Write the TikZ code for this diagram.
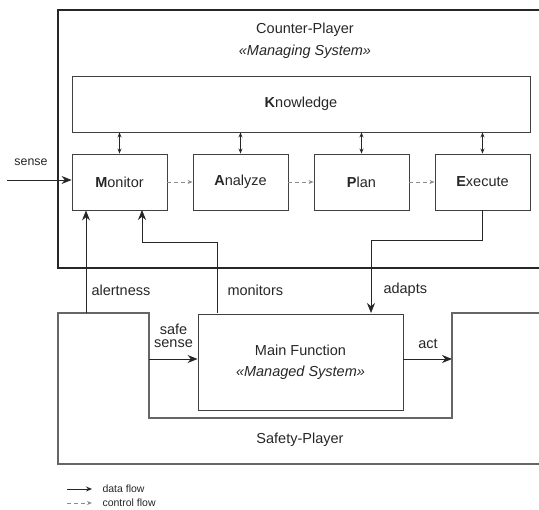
\documentclass[tikz,border=0pt]{standalone}
\usepackage{fontspec}
\setmainfont{Liberation Sans}
\usetikzlibrary{arrows.meta}
\begin{document}
\begin{tikzpicture}[x=1pt,y=-1pt,every node/.style={font=\fontsize{14.5}{17}\selectfont,text=black!85},
  box/.style={draw=black!75,line width=0.9pt,rectangle,minimum width=95pt,minimum height=56pt,inner sep=0pt},
  flow/.style={draw=black!85,line width=0.9pt,-{Stealth[length=10pt,width=8pt]}},
  link/.style={draw=black!85,line width=0.9pt,{Stealth[length=5pt,width=4pt]}-{Stealth[length=5pt,width=4pt]}},
  ctrl/.style={draw=black!45,line width=0.9pt,dash pattern=on 4pt off 3pt,-{Stealth[length=5pt,width=4pt]}}]
\useasboundingbox (0,0) rectangle (539,510);
\clip (0,0) rectangle (539,510);
% Counter-Player
\draw[black!85,line width=2pt] (58,10) rectangle (580,268);
\node (cp) at (305,30) {Counter-Player};
\node (ms) at (305,52) {\itshape «Managing System»};
\node[box,minimum width=458pt] (know) at (301,104) {\textbf{K}nowledge};
\node[box] (mon) at (119.5,182) {\textbf{M}onitor};
\node[box] (ana) at (240.5,182) {\textbf{A}nalyze};
\node[box] (plan) at (361.5,182) {\textbf{P}lan};
\node[box] (exe) at (482.5,182) {\textbf{E}xecute};
\draw[link] (mon) -- (mon |- know.south);
\draw[link] (ana) -- (ana |- know.south);
\draw[link] (plan) -- (plan |- know.south);
\draw[link] (exe) -- (exe |- know.south);
\draw[ctrl] (mon) -- (ana);
\draw[ctrl] (ana) -- (plan);
\draw[ctrl] (plan) -- (exe);
% Safety-Player
\draw[black!60,line width=1.2pt] (580,313) -- (452,313) -- (452,418) -- (149,418) -- (149,313) -- (58,313) -- (58,464) -- (580,464);
\node (sp) at (300,440) {Safety-Player};
\node[box,minimum width=205pt,minimum height=96pt,align=center] (main) at (300.5,362) {Main Function\\[4pt]\itshape «Managed System»};
% connectors
\coordinate (in) at (7,180);
\draw[flow] (in) -- (mon.west |- in);
\node[font=\fontsize{12.4}{14}\selectfont] (sense) at (31,162) {sense};
\coordinate (alert) at (86,313);
\draw[flow] (alert) -- (alert |- mon.south);
\node[anchor=west] (al) at (88,290) {alertness};
\draw[flow] (217,313) -- (217,242) -- (142,242) -- (142,210);
\node[anchor=west] (mo) at (224,290) {monitors};
\draw[flow] (exe.south) -- (482.5,240) -- (371,240) -- (371,313);
\node[anchor=west] (ad) at (380,290) {adapts};
\coordinate (ss) at (149,359);
\draw[flow] (ss) -- (main.west |- ss);
\node[align=center,font=\fontsize{14.5}{13}\selectfont] (sslab) at (173.5,336) {safe\\sense};
\coordinate (ac) at (452,359);
\draw[flow] (main.east |- ac) -- (ac);
\node (aclab) at (428,344) {act};
% legend
\coordinate (l1) at (67,489);
\coordinate (l2) at (67,503);
\draw[draw=black!85,line width=0.9pt,-{Stealth[length=6pt,width=5pt]}] (l1) -- ++(25,0);
\draw[ctrl] (l2) -- ++(25,0);
\node[anchor=west,font=\fontsize{10.5}{12}\selectfont] (df) at (99,489) {data flow};
\node[anchor=west,font=\fontsize{10.5}{12}\selectfont] (cf) at (99,503) {control flow};
\end{tikzpicture}
\end{document}
